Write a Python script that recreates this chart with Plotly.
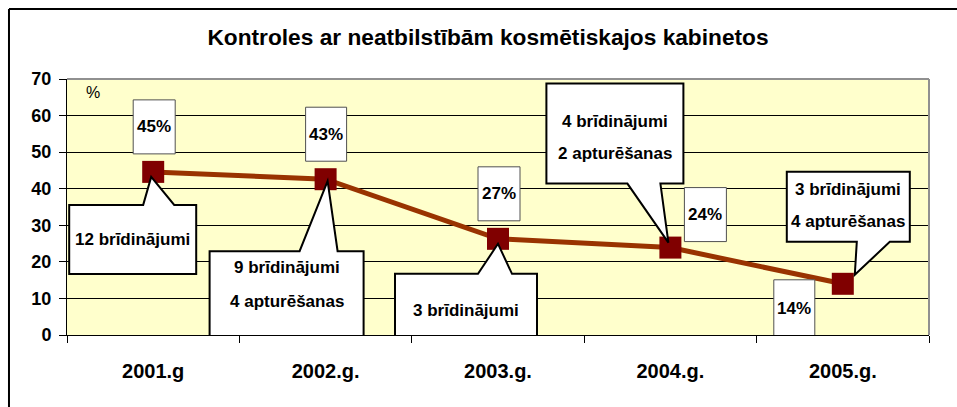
import plotly.graph_objects as go

# ---------------- data ----------------
years = ["2001.g", "2002.g.", "2003.g.", "2004.g.", "2005.g."]
share_pct = [44.6, 42.6, 26.3, 23.9, 14.0]
value_labels = ["45%", "43%", "27%", "24%", "14%"]
callout_texts = [
    ["12 brīdinājumi"],
    ["9 brīdinājumi", "4 apturēšanas"],
    ["3 brīdinājumi"],
    ["4 brīdinājumi", "2 apturēšanas"],
    ["3 brīdinājumi", "4 apturēšanas"],
]
y_ticks = [0, 10, 20, 30, 40, 50, 60, 70]
title_text = "Kontroles ar neatbilstībām kosmētiskajos kabinetos"

# ---------------- styling / placement (pixel offsets from each point, screen: down = +) ----------------
LABEL_FONT = "Liberation Sans, Arial, sans-serif"
ARIAL = "Liberation Sans, Arial, sans-serif"

# value boxes: (x0, x1, y_top, y_bottom)
value_boxes = [
    (-20, 22, -72, -18),
    (-20, 21, -72, -18),
    (-20, 22, -72, -18),
    (14, 56, -60, -6),
    (-69, -28, -4, 54),
]
# callouts: box (x0,x1,y_top,y_bottom), pointer side, pointer base (bx0,bx1), tip (tx,ty), text line y's
callouts = [
    dict(box=(-84, 43, 33, 102), side="top", base=(-10, 21), tip=(-2, 5), lines_y=[67.5]),
    dict(box=(-116, 38, 72, 169), side="top", base=(-26, 12), tip=(2, 2), lines_y=[88.5, 121.8]),
    dict(box=(-103, 39, 35, 109), side="top", base=(-20, 14), tip=(0, 5), lines_y=[71.2]),
    dict(box=(-124, 13, -164, -64), side="bottom", base=(-43, -10), tip=(-2, -5), lines_y=[-126, -94.3]),
    dict(box=(-56, 67, -112, -42), side="bottom", base=(14, 47), tip=(12, -9), lines_y=[-94.8, -62.1]),
]

xs = list(range(len(years)))

fig = go.Figure()
fig.add_trace(go.Scatter(
    x=xs, y=share_pct, mode="lines+markers",
    line=dict(color="#993300", width=5),
    marker=dict(symbol="square", size=22, color="#800000", line=dict(width=0)),
    hoverinfo="skip", showlegend=False,
))

shapes = []
annotations = []

def up(v):
    return -v

label_font = dict(family=LABEL_FONT, size=17, color="black", weight="bold")

for i, (x0, x1, yt, yb) in enumerate(value_boxes):
    shapes.append(dict(
        type="rect", xref="x", yref="y", xsizemode="pixel", ysizemode="pixel",
        xanchor=xs[i], yanchor=share_pct[i],
        x0=x0, x1=x1, y0=up(yt), y1=up(yb),
        fillcolor="white", line=dict(color="#505050", width=1), layer="above",
    ))
    annotations.append(dict(
        x=xs[i], y=share_pct[i], xref="x", yref="y", showarrow=False,
        xshift=(x0 + x1) / 2, yshift=up((yt + yb) / 2),
        text=value_labels[i], font=label_font,
        xanchor="center", yanchor="middle",
    ))

for i, c in enumerate(callouts):
    x0, x1, yt, yb = c["box"]
    bx0, bx1 = c["base"]
    tx, ty = c["tip"]
    if c["side"] == "top":
        pts = [(x0, yt), (bx0, yt), (tx, ty), (bx1, yt), (x1, yt), (x1, yb), (x0, yb)]
    else:
        pts = [(x0, yt), (x1, yt), (x1, yb), (bx1, yb), (tx, ty), (bx0, yb), (x0, yb)]
    path = "M " + " L ".join(f"{px},{up(py)}" for px, py in pts) + " Z"
    shapes.append(dict(
        type="path", xref="x", yref="y", xsizemode="pixel", ysizemode="pixel",
        xanchor=xs[i], yanchor=share_pct[i], path=path,
        fillcolor="white", line=dict(color="black", width=2), layer="above",
    ))
    for txt, ly in zip(callout_texts[i], c["lines_y"]):
        annotations.append(dict(
            x=xs[i], y=share_pct[i], xref="x", yref="y", showarrow=False,
            xshift=(x0 + x1) / 2, yshift=up(ly),
            text=txt, font=label_font,
            xanchor="center", yanchor="middle",
        ))

# plot-area top/right grey border
shapes.append(dict(type="line", xref="paper", yref="paper", x0=0, x1=1, y0=1, y1=1,
                   line=dict(color="#909090", width=2), layer="above"))
shapes.append(dict(type="line", xref="paper", yref="paper", x0=1, x1=1, y0=0, y1=1,
                   line=dict(color="#909090", width=2), layer="above"))
# outer chart frame (left and top edges visible)
shapes.append(dict(type="line", xref="paper", yref="paper", x0=-0.0673, x1=-0.0673, y0=-0.4, y1=1.2734,
                   line=dict(color="black", width=2)))
shapes.append(dict(type="line", xref="paper", yref="paper", x0=-0.0673, x1=1.1, y0=1.2734, y1=1.2734,
                   line=dict(color="black", width=2)))

annotations.append(dict(
    x=0.030, y=0.949, xref="paper", yref="paper", showarrow=False,
    text="%", font=dict(family=ARIAL, size=16, color="black"),
    xanchor="center", yanchor="middle",
))

fig.update_layout(
    width=957, height=407,
    margin=dict(l=67, r=28, t=79, b=72, pad=0),
    paper_bgcolor="white", plot_bgcolor="#FFFFCC",
    title=dict(text=title_text, x=488 / 957, xanchor="center", y=1 - 37 / 407, yanchor="middle",
               xref="container", yref="container",
               font=dict(family=ARIAL, size=22.7, color="black", weight="bold")),
    shapes=shapes, annotations=annotations,
    showlegend=False,
)
fig.update_xaxes(
    range=[-0.5, len(years) - 0.5], tickvals=xs, ticktext=years, ticks="",
    showgrid=False, zeroline=False, showline=True, linecolor="black", linewidth=1,
    tickfont=dict(family=ARIAL, size=20, color="black", weight="bold"),
    ticklabelstandoff=18,
    minor=dict(tick0=-0.5, dtick=1, ticks="outside", ticklen=7, tickcolor="black", showgrid=False),
)
fig.update_yaxes(
    range=[0, 70], tickvals=y_ticks, ticks="outside", ticklen=7, tickcolor="black",
    showgrid=True, gridcolor="black", gridwidth=1, zeroline=False,
    showline=True, linecolor="black", linewidth=1,
    tickfont=dict(family=ARIAL, size=18, color="black", weight="bold"),
    ticklabelstandoff=4,
)

fig.write_html("out.html", config={"displayModeBar": False},
               post_script="document.body.style.margin='0';")
